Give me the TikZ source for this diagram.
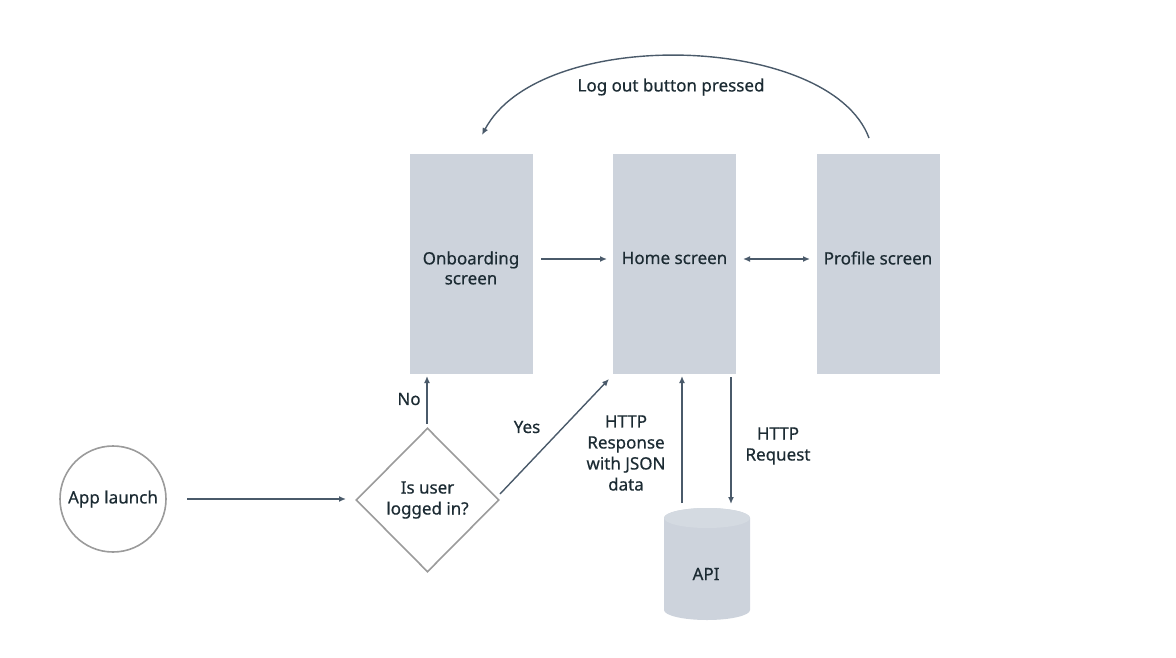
\documentclass[tikz,border=0pt]{standalone}
\usepackage{fontspec}
\setmainfont{Noto Sans}[FakeBold=0.5]
\usetikzlibrary{arrows.meta,shapes.geometric}
\definecolor{boxfill}{HTML}{CDD3DC}
\definecolor{arrowc}{HTML}{4A5A6A}
\definecolor{outl}{HTML}{9B9B9B}
\definecolor{txt}{HTML}{1C2B33}
\tikzset{
  screen/.style={fill=boxfill, draw=none, minimum width=123pt, minimum height=220pt, inner sep=0pt, align=center, text=txt, font=\fontsize{17}{20.5}\selectfont\bfseries},
  conn/.style={draw=arrowc, line width=1.4pt, -{Latex[length=7pt,width=6pt]}},
  lbl/.style={text=txt, align=center, font=\fontsize{17}{21}\selectfont\bfseries, inner sep=0pt},
}
\begin{document}
\begin{tikzpicture}[x=1pt,y=-1pt]
\useasboundingbox (0,0) rectangle (1176,657);
\node[screen] (onb) at (471,263.5) {};
\node[screen] (home) at (674.5,263.5) {};
\node[screen] (prof) at (878,263.5) {};
\node[lbl] at (onb.center) [yshift=-4.5pt] {Onboarding\\[-1pt]screen};
\node[lbl] at (home.center) [yshift=5.5pt] {Home screen};
\node[lbl] at (prof.center) [yshift=5.5pt] {Profile screen};
\node[circle, draw=outl, line width=1.6pt, minimum size=106pt, inner sep=0pt, text=txt, font=\fontsize{17}{20}\selectfont\bfseries] (app) at (113,499) {App launch};
\node[diamond, draw=outl, line width=1.6pt, minimum width=143pt, minimum height=144pt, inner sep=0pt, align=center, text=txt, font=\fontsize{17}{21}\selectfont\bfseries] (dec) at (427.5,500) {Is user\\logged in?};
% API cylinder
\fill[boxfill] (664,518) -- (664,610) arc[start angle=180, end angle=360, x radius=43, y radius=-10] -- (750,518) arc[start angle=0, end angle=180, x radius=43, y radius=-10] -- cycle;
\fill[boxfill!85!white] (707,518) ellipse[x radius=43, y radius=10];
\node[lbl] (api) at (706,574) {API};
% connectors
\coordinate (a1s) at (187,499); \coordinate (a1e) at (346,499);
\draw[conn] (a1s) -- (a1e);
\coordinate (nos) at (427,424); \coordinate (noe) at (427,376);
\draw[conn] (nos) -- (noe);
\coordinate (yess) at (500,494); \coordinate (yese) at (609,379);
\draw[conn] (yess) -- (yese);
\coordinate (oh1) at (541,259); \coordinate (oh2) at (607,259);
\draw[conn] (oh1) -- (oh2);
\coordinate (hp1) at (743,259); \coordinate (hp2) at (810,259);
\draw[conn, {Latex[length=7pt,width=6pt]}-{Latex[length=7pt,width=6pt]}] (hp1) -- (hp2);
\coordinate (rs) at (682,503); \coordinate (re) at (682,376);
\draw[conn] (rs) -- (re);
\coordinate (qs) at (731,377); \coordinate (qe) at (731,504);
\draw[conn] (qs) -- (qe);
\coordinate (ls) at (869,138); \coordinate (le) at (482,135);
\draw[conn] (ls) .. controls (830,33) and (540,25) .. (le);
% labels
\node[lbl] at (671,87) {Log out button pressed};
\node[lbl] at (409,399) {No};
\node[lbl] at (527,427) {Yes};
\node[lbl] at (626,453) {HTTP\\Response\\with JSON\\data};
\node[lbl] at (778,446) {HTTP\\Request};
\end{tikzpicture}
\end{document}
